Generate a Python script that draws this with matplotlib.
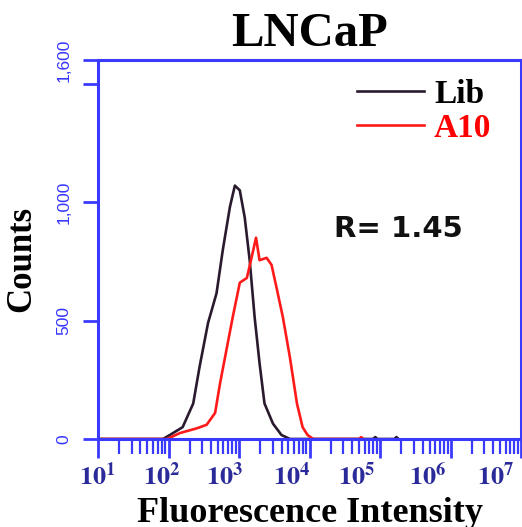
import numpy as np
import matplotlib.pyplot as plt
from matplotlib.ticker import LogLocator, NullFormatter

# histogram data (log10 of intensity, counts)
lib_log = [1.0, 1.5, 1.92, 2.02, 2.2, 2.35, 2.44, 2.56, 2.68, 2.77, 2.87, 2.94,
           3.01, 3.08, 3.15, 3.22, 3.29, 3.36, 3.48, 3.6, 3.72, 4.0, 4.3,
           4.9, 4.93, 4.96, 5.2, 5.23, 5.26]
lib_counts = [0, 0, 0, 17, 50, 150, 305, 490, 615, 800, 980, 1070,
              1050, 935, 755, 515, 320, 150, 65, 17, 0, 0, 0,
              0, 8, 0, 0, 8, 0]

a10_log = [1.0, 1.5, 1.98, 2.16, 2.4, 2.54, 2.66, 2.73, 2.82, 2.91, 3.01, 3.11,
           3.18, 3.24, 3.29, 3.39, 3.46, 3.53, 3.62, 3.72, 3.82, 3.9, 3.97,
           4.05, 4.4, 4.7, 4.73, 4.76]
a10_counts = [0, 0, 0, 25, 45, 60, 110, 235, 375, 515, 660, 680,
              770, 850, 755, 765, 735, 640, 515, 345, 150, 50, 17,
              0, 0, 0, 8, 0]

yticks = [0, 500, 1000, 1500, 1600]
ytick_labels = ['0', '500', '1,000', '', '1,600']
decades = [1, 2, 3, 4, 5, 6, 7]
# where the decade labels sit along the axis (axes fraction)
label_pos = [0.0, 0.151, 0.300, 0.458, 0.611, 0.778, 0.94]

blue = '#3a3aff'
serif = 'Liberation Serif'
plt.rcParams['mathtext.fontset'] = 'stix'

fig = plt.figure(figsize=(5.22, 5.27), dpi=100)
ax = fig.add_axes([0.1877, 0.167, 0.811, 0.719])

ax.plot(10 ** np.array(lib_log), lib_counts, color='#2a1a2e', lw=1.9, label='Lib')
ax.plot(10 ** np.array(a10_log), a10_counts, color='#ff1a1a', lw=1.9, label='A10')

ax.set_xscale('log')
ax.set_xlim(10, 1e7)
ax.set_ylim(0, 1600)

for s in ax.spines.values():
    s.set_color(blue)
    s.set_linewidth(2.2)

ax.xaxis.set_major_locator(LogLocator(base=10, numticks=10))
ax.xaxis.set_minor_locator(LogLocator(base=10, subs=np.arange(2, 10), numticks=10))
ax.xaxis.set_major_formatter(NullFormatter())
ax.xaxis.set_minor_formatter(NullFormatter())
ax.tick_params(axis='x', which='major', length=14, width=2, color=blue)
ax.tick_params(axis='x', which='minor', length=11, width=1.6, color=blue)

ax.set_yticks(yticks)
ax.set_yticklabels(ytick_labels, rotation=90, va='center', family='Liberation Sans',
                   fontsize=12.5, color='#3535ff')
ax.tick_params(axis='y', length=11, width=2, color=blue, pad=8)

for d, p in zip(decades, label_pos):
    ax.text(p, -0.1, r'$\mathbf{10^{%d}}$' % d, transform=ax.transAxes,
            ha='center', va='center', fontsize=19, color='#2a2a9a')

ax.set_title('LNCaP', family=serif, fontweight='bold', fontsize=35, pad=10)
ax.set_xlabel('Fluorescence Intensity', family=serif, fontweight='bold',
              fontsize=26)
ax.xaxis.set_label_coords(0.5, -0.152)
ax.set_ylabel('Counts', family=serif, fontweight='bold', fontsize=25)
ax.yaxis.set_label_coords(-0.14, 0.475)

leg = ax.legend(loc='upper right', frameon=False, handlelength=2.0,
                prop={'family': serif, 'weight': 'bold', 'size': 24},
                bbox_to_anchor=(1.0, 1.03), labelspacing=0.1, handletextpad=0.3)
for t, c in zip(leg.get_texts(), ['black', 'red']):
    t.set_color(c)

ax.text(10 ** 4.35, 886, 'R= 1.45', family='DejaVu Sans', fontweight='bold',
        fontsize=21, va='center', ha='left', color='#111111')

plt.savefig('out.png', dpi=100)
